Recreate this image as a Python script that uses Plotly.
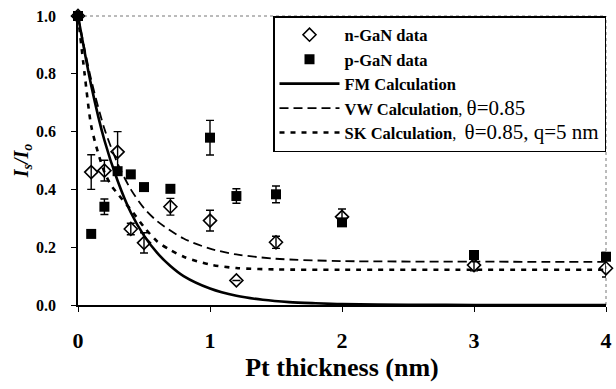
import plotly.graph_objects as go

# ---- data ----
n_x = [0, 0.1, 0.2, 0.3, 0.4, 0.5, 0.7, 1.0, 1.2, 1.5, 2.0, 3.0, 4.0]
n_y = [1.0, 0.46, 0.465, 0.53, 0.263, 0.215, 0.34, 0.292, 0.085, 0.217, 0.305, 0.138, 0.127]
n_err = [0, 0.06, 0.036, 0.07, 0.02, 0.035, 0.029, 0.036, 0, 0.021, 0.027, 0.02, 0.03]

p_x = [0, 0.1, 0.2, 0.3, 0.4, 0.5, 0.7, 1.0, 1.2, 1.5, 2.0, 3.0, 4.0]
p_y = [1.0, 0.246, 0.34, 0.463, 0.452, 0.408, 0.402, 0.579, 0.377, 0.383, 0.286, 0.173, 0.167]
p_err = [0, 0, 0.027, 0, 0, 0, 0, 0.06, 0.025, 0.029, 0.012, 0.015, 0.015]

fm_x = [0, 0.1, 0.2, 0.3, 0.4, 0.5, 0.6, 0.7, 0.8, 1.0, 1.2, 1.4, 1.6, 1.8, 2.0, 2.5, 3.0, 4.0]
fm_y = [1.0, 0.76, 0.57, 0.43, 0.32, 0.24, 0.18, 0.135, 0.10, 0.057, 0.032, 0.018, 0.010, 0.006, 0.003, 0.001, 0.0, 0.0]

vw_x = [0, 0.1, 0.2, 0.3, 0.4, 0.5, 0.6, 0.8, 1.0, 1.2, 1.5, 2.0, 3.0, 4.0]
vw_y = [1.0, 0.78, 0.61, 0.49, 0.40, 0.335, 0.29, 0.23, 0.195, 0.175, 0.16, 0.152, 0.15, 0.149]

sk_x = [0, 0.05, 0.1, 0.15, 0.2, 0.25, 0.3, 0.4, 0.5, 0.6, 0.7, 0.8, 1.0, 1.2, 1.5, 2.0, 3.0, 4.0]
sk_y = [1.0, 0.80, 0.62, 0.53, 0.46, 0.415, 0.385, 0.33, 0.27, 0.22, 0.19, 0.167, 0.14, 0.128, 0.123, 0.122, 0.122, 0.122]

x_ticks = [0, 1, 2, 3, 4]
y_ticks = [0.0, 0.2, 0.4, 0.6, 0.8, 1.0]

FONT = "Liberation Serif, Times New Roman, serif"
BIG = "<span style='font-size:21px'>"

fig = go.Figure()

fig.add_trace(go.Scatter(
    x=n_x, y=n_y, mode="markers", name="<b>n-GaN data</b>",
    marker=dict(symbol="diamond-open", size=10, color="black", line=dict(width=1.6, color="black")),
    error_y=dict(type="data", array=n_err, visible=True, color="black", thickness=1.4, width=4),
    cliponaxis=False,
))
fig.add_trace(go.Scatter(
    x=p_x, y=p_y, mode="markers", name="<b>p-GaN data</b>",
    marker=dict(symbol="square", size=10, color="black"),
    error_y=dict(type="data", array=p_err, visible=True, color="black", thickness=1.4, width=4),
    cliponaxis=False,
))
fig.add_trace(go.Scatter(
    x=fm_x, y=fm_y, mode="lines", name="<b>FM Calculation</b>",
    line=dict(color="black", width=2.6, shape="spline", smoothing=0.8),
))
fig.add_trace(go.Scatter(
    x=vw_x, y=vw_y, mode="lines",
    name="<b>VW Calculation</b>, " + BIG + "θ=0.85</span>",
    line=dict(color="black", width=1.8, dash="9px,5px", shape="spline", smoothing=0.8),
))
fig.add_trace(go.Scatter(
    x=sk_x, y=sk_y, mode="lines",
    name="<b>SK Calculation</b>,\u00a0 " + BIG + "θ=0.85, q=5 nm</span>",
    line=dict(color="black", width=2.6, dash="5px,6px", shape="spline", smoothing=0.8),
))

# faint dotted frame on top and right
fig.add_shape(type="line", xref="paper", yref="paper", x0=0, x1=1, y0=1, y1=1,
              line=dict(color="#777", width=1, dash="dot"), layer="below")
fig.add_shape(type="line", xref="paper", yref="paper", x0=1, x1=1, y0=0, y1=1,
              line=dict(color="#777", width=1, dash="dot"), layer="below")

fig.update_layout(
    width=616, height=389,
    margin=dict(l=78, r=4, t=16, b=84),
    paper_bgcolor="white", plot_bgcolor="white",
    font=dict(family=FONT, color="black"),
    showlegend=True,
    legend=dict(
        x=1, y=1, xanchor="right", yanchor="top",
        bgcolor="white", bordercolor="black", borderwidth=1.5,
        font=dict(family=FONT, size=16.5, color="black"),
        tracegroupgap=0, itemwidth=60,
    ),
    xaxis=dict(
        range=[0, 4], tickvals=x_ticks, ticktext=[f"<b>{v}</b>" for v in x_ticks],
        showgrid=False, zeroline=False, showline=True, linecolor="black", linewidth=1.5,
        ticks="outside", ticklen=5, tickwidth=1, tickcolor="black",
        tickfont=dict(family=FONT, size=22, color="black"),
        ticklabelstandoff=10, ticklabeloverflow="allow",
        title=dict(text="<b>Pt thickness (nm)</b>", font=dict(family=FONT, size=26, color="black"), standoff=4),
    ),
    yaxis=dict(
        range=[0, 1.0], tickvals=y_ticks, ticktext=[f"<b>{v:.1f}</b>" for v in y_ticks],
        showgrid=False, zeroline=False, showline=True, linecolor="black", linewidth=1.5,
        ticks="outside", ticklen=5, tickwidth=1, tickcolor="black",
        tickfont=dict(family=FONT, size=16, color="black"),
        ticklabelstandoff=12,
        title=dict(text="<b><i>I<sub>s</sub>/I<sub>o</sub></i></b>", font=dict(family=FONT, size=20, color="black"), standoff=2),
    ),
)

fig.write_html("out.html")
